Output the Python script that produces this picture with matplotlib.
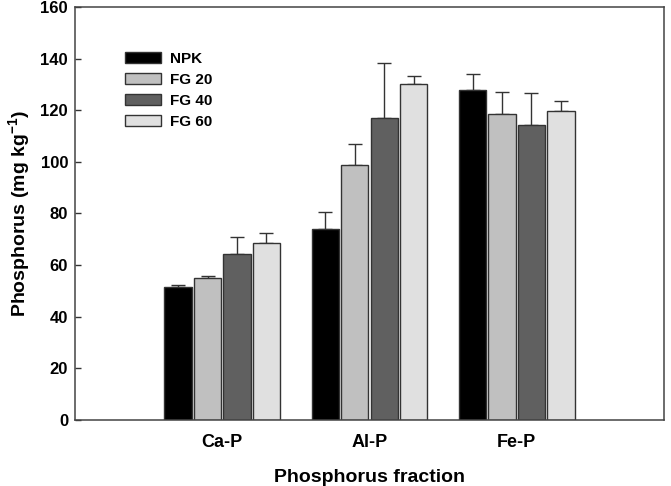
import numpy as np
import matplotlib.pyplot as plt

plt.rcParams['font.family'] = ['Liberation Sans', 'DejaVu Sans']
plt.rcParams['font.weight'] = 'bold'
plt.rcParams['mathtext.fontset'] = 'custom'
plt.rcParams['mathtext.rm'] = 'Liberation Sans:bold'
plt.rcParams['mathtext.bf'] = 'Liberation Sans:bold'
plt.rcParams['mathtext.default'] = 'bf'

fractions = ['Ca-P', 'Al-P', 'Fe-P']
treatments = ['NPK', 'FG 20', 'FG 40', 'FG 60']

# mean values per treatment (Ca-P, Al-P, Fe-P)
npk = [51.6, 74.0, 128.0]
fg20 = [55.0, 98.9, 118.7]
fg40 = [64.3, 116.9, 114.3]
fg60 = [68.5, 130.1, 119.6]

# error (upper only)
npk_err = [0.6, 6.5, 6.2]
fg20_err = [0.6, 7.9, 8.4]
fg40_err = [6.5, 21.3, 12.3]
fg60_err = [4.0, 3.3, 4.1]

colors = ['#000000', '#c0c0c0', '#606060', '#e0e0e0']

fig = plt.figure(figsize=(6.71, 4.86), dpi=100)
ax = fig.add_axes([0.1118, 0.1358, 0.8778, 0.8498])

x = np.arange(len(fractions))
w = 0.2
series = [npk, fg20, fg40, fg60]
errs = [npk_err, fg20_err, fg40_err, fg60_err]
for i, (vals, err) in enumerate(zip(series, errs)):
    pos = x + (i - 1.5) * w
    ax.bar(pos, vals, width=0.185, color=colors[i], edgecolor='#333333',
           linewidth=1.0, label=treatments[i], zorder=2)
    ax.errorbar(pos, vals, yerr=[np.zeros(len(err)), err], fmt='none',
                ecolor='#333333', elinewidth=1.0, capsize=4.7, capthick=1.0,
                zorder=1)

ax.set_xlim(-1, 3)
ax.set_ylim(0, 160)
ax.set_yticks(np.arange(0, 161, 20))
ax.set_xticks(x)
ax.set_xticklabels(fractions)
ax.tick_params(axis='x', length=0, pad=10, labelsize=13)
ax.tick_params(axis='y', direction='in', length=4.5, width=1.0, pad=5,
               labelsize=12, color='#333333')
for s in ax.spines.values():
    s.set_linewidth(1.1)
    s.set_color('#444444')

ax.set_xlabel('Phosphorus fraction', fontsize=14, fontweight='bold', labelpad=13)
ax.set_ylabel('Phosphorus (mg kg$^{-1}$)', fontsize=14, fontweight='bold', labelpad=6)

ax.legend(loc='upper left', bbox_to_anchor=(0.066, 0.918), frameon=False,
          fontsize=11, handlelength=2.4, handleheight=0.7,
          labelspacing=0.47, handletextpad=0.6, borderaxespad=0.3)

fig.savefig('out.png', dpi=100)
